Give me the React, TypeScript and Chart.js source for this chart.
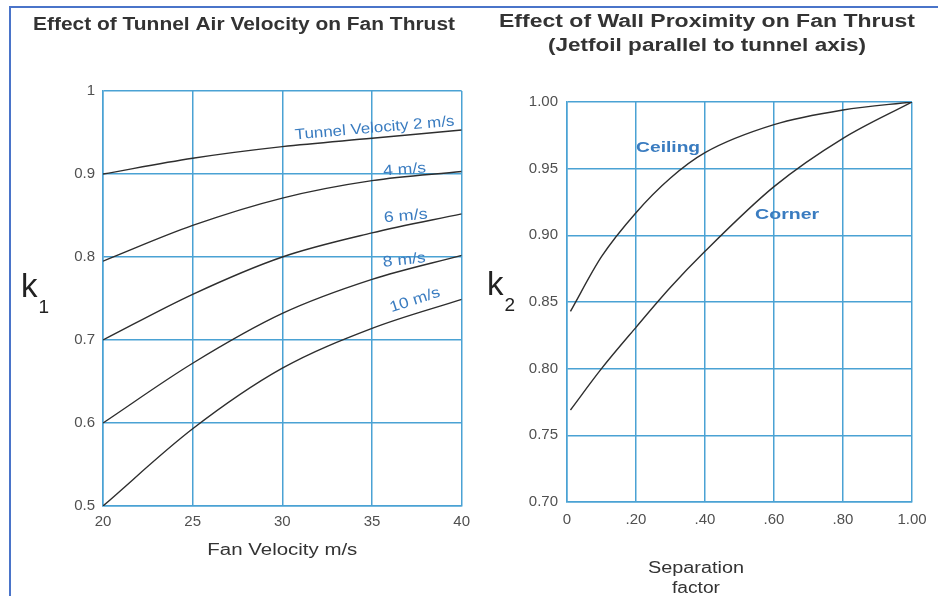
import { useEffect, useRef } from "react";
import { Chart, registerables } from "chart.js";

Chart.register(...registerables);

// ---- Fan thrust correction factor k1 vs fan velocity ----
const fanVelocity = [20, 25, 30, 35, 40];
const k1Tunnel2 = [0.9, 0.919, 0.933, 0.943, 0.953];
const k1Tunnel4 = [0.795, 0.838, 0.871, 0.892, 0.903];
const k1Tunnel6 = [0.7, 0.755, 0.8, 0.829, 0.852];
const k1Tunnel8 = [0.6, 0.672, 0.732, 0.773, 0.802];
const k1Tunnel10 = [0.5, 0.593, 0.666, 0.714, 0.749];
const k1Ticks = [0.5, 0.6, 0.7, 0.8, 0.9, 1];
const k1TickLabels = ["0.5", "0.6", "0.7", "0.8", "0.9", "1"];
const fanTicks = [20, 25, 30, 35, 40];
const fanTickLabels = ["20", "25", "30", "35", "40"];

// ---- Wall proximity correction factor k2 vs separation factor ----
const separation = [0.01, 0.1, 0.2, 0.3, 0.4, 0.6, 0.8, 1.0];
const k2Ceiling = [0.843, 0.884, 0.917, 0.943, 0.962, 0.983, 0.994, 1.0];
const k2Corner = [0.769, 0.8, 0.831, 0.861, 0.888, 0.9365, 0.9727, 1.0];
const k2Ticks = [0.7, 0.75, 0.8, 0.85, 0.9, 0.95, 1.0];
const k2TickLabels = ["0.70", "0.75", "0.80", "0.85", "0.90", "0.95", "1.00"];
const sepTicks = [0, 0.2, 0.4, 0.6, 0.8, 1.0];
const sepTickLabels = ["0", ".20", ".40", ".60", ".80", "1.00"];

const FONT = '"Liberation Sans", Arial, Helvetica, sans-serif';
const GRID = "#4aa2d4";
const TICK = "#505050";
const TEXT = "#333333";
const LABEL_BLUE = "#3a7cc0";
const CURVE = "#2e2e2e";

type Note = { text: string; x: number; y: number; angle: number; width: number; font: string };

function fitText(ctx: CanvasRenderingContext2D, text: string, cx: number, cy: number, width: number, angleDeg: number) {
  const w = ctx.measureText(text).width;
  ctx.save();
  ctx.translate(cx, cy);
  ctx.rotate((angleDeg * Math.PI) / 180);
  ctx.scale(width / w, 1);
  ctx.textAlign = "center";
  ctx.fillText(text, 0, 0);
  ctx.restore();
}

function makeNotesPlugin(draw: (chart: any, ctx: CanvasRenderingContext2D) => void, notes: Note[]) {
  return {
    id: "notes",
    afterDraw(chart: any) {
      const ctx: CanvasRenderingContext2D = chart.ctx;
      const xs = chart.scales.x;
      const ys = chart.scales.y;
      ctx.save();
      ctx.textBaseline = "middle";
      ctx.fillStyle = LABEL_BLUE;
      for (const n of notes) {
        ctx.font = n.font;
        fitText(ctx, n.text, xs.getPixelForValue(n.x), ys.getPixelForValue(n.y), n.width, n.angle);
      }
      ctx.restore();
      ctx.save();
      draw(chart, ctx);
      ctx.restore();
    },
  };
}

function series(xs: number[], ys: number[]) {
  return xs.map((x, i) => ({ x, y: ys[i] }));
}

function lineDataset(xs: number[], ys: number[]) {
  return {
    data: series(xs, ys),
    borderColor: CURVE,
    borderWidth: 1.4,
    pointRadius: 0,
    cubicInterpolationMode: "monotone" as const,
    fill: false,
  };
}

function axis(ticksAt: number[], labels: string[], min: number, max: number, size: number, isX: boolean, pad: number, fontSize: number) {
  return {
    type: "linear" as const,
    min,
    max,
    afterBuildTicks(scale: any) {
      scale.ticks = ticksAt.map((v) => ({ value: v }));
    },
    afterFit(scale: any) {
      if (isX) scale.height = size;
      else scale.width = size;
    },
    grid: { color: GRID, lineWidth: 1.5, drawTicks: false },
    border: { color: GRID, width: 1.5 },
    ticks: {
      padding: pad,
      color: TICK,
      font: { family: FONT, size: fontSize },
      maxRotation: 0,
      autoSkip: false,
      callback: (v: number) => {
        const i = ticksAt.findIndex((t) => Math.abs(t - v) < 1e-9);
        return i >= 0 ? labels[i] : "";
      },
    },
  };
}

function drawK(ctx: CanvasRenderingContext2D, x: number, baseline: number, sub: string) {
  ctx.fillStyle = "#222222";
  ctx.textAlign = "left";
  ctx.textBaseline = "alphabetic";
  ctx.font = `33px ${FONT}`;
  ctx.fillText("k", x, baseline);
  const kw = ctx.measureText("k").width;
  ctx.font = `19px ${FONT}`;
  ctx.fillText(sub, x + kw + 1, baseline + 16);
}

function VelocityChart() {
  const ref = useRef<HTMLCanvasElement | null>(null);
  useEffect(() => {
    if (!ref.current) return;
    const notes: Note[] = [
      { text: "Tunnel Velocity 2 m/s", x: 35.15, y: 0.955, angle: -5, width: 160, font: `15px ${FONT}` },
      { text: "4 m/s", x: 36.82, y: 0.905, angle: -4, width: 43, font: `15px ${FONT}` },
      { text: "6 m/s", x: 36.88, y: 0.849, angle: -5, width: 44, font: `15px ${FONT}` },
      { text: "8 m/s", x: 36.8, y: 0.796, angle: -6, width: 43, font: `15px ${FONT}` },
      { text: "10 m/s", x: 37.4, y: 0.748, angle: -18, width: 52, font: `15px ${FONT}` },
    ];
    const plugin = makeNotesPlugin((chart, ctx) => {
      const a = chart.chartArea;
      ctx.fillStyle = TEXT;
      ctx.textBaseline = "alphabetic";
      ctx.font = `bold 18px ${FONT}`;
      fitText(ctx, "Effect of Tunnel Air Velocity on Fan Thrust", 244, 30, 422, 0);
      ctx.font = `16px ${FONT}`;
      fitText(ctx, "Fan Velocity m/s", (a.left + a.right) / 2, 555, 150, 0);
      drawK(ctx, 21, 297, "1");
    }, notes);
    const chart = new Chart(ref.current, {
      type: "line",
      data: {
        datasets: [
          lineDataset(fanVelocity, k1Tunnel2),
          lineDataset(fanVelocity, k1Tunnel4),
          lineDataset(fanVelocity, k1Tunnel6),
          lineDataset(fanVelocity, k1Tunnel8),
          lineDataset(fanVelocity, k1Tunnel10),
        ],
      },
      options: {
        responsive: false,
        animation: false,
        layout: { padding: { top: 91, right: 0, bottom: 0, left: 0 } },
        plugins: { legend: { display: false }, tooltip: { enabled: false }, title: { display: false } },
        scales: {
          x: axis(fanTicks, fanTickLabels, 20, 40, 90, true, 7, 15),
          y: axis(k1Ticks, k1TickLabels, 0.5, 1, 103, false, 8, 15),
        },
      },
      plugins: [plugin],
    });
    return () => chart.destroy();
  }, []);
  return <canvas ref={ref} width={477} height={596} style={{ position: "absolute", left: 0, top: 0 }} />;
}

function ProximityChart() {
  const ref = useRef<HTMLCanvasElement | null>(null);
  useEffect(() => {
    if (!ref.current) return;
    const notes: Note[] = [
      { text: "Ceiling", x: 0.293, y: 0.9655, angle: 0, width: 64, font: `bold 15px ${FONT}` },
      { text: "Corner", x: 0.638, y: 0.915, angle: 0, width: 64, font: `bold 15px ${FONT}` },
    ];
    const plugin = makeNotesPlugin((chart, ctx) => {
      ctx.fillStyle = TEXT;
      ctx.textBaseline = "alphabetic";
      ctx.font = `bold 18px ${FONT}`;
      fitText(ctx, "Effect of Wall Proximity on Fan Thrust", 237, 27, 416, 0);
      fitText(ctx, "(Jetfoil parallel to tunnel axis)", 237, 51, 318, 0);
      ctx.font = `16px ${FONT}`;
      fitText(ctx, "Separation", 226, 573, 96, 0);
      fitText(ctx, "factor", 226, 593, 48, 0);
      drawK(ctx, 17, 295, "2");
    }, notes);
    const chart = new Chart(ref.current, {
      type: "line",
      data: {
        datasets: [lineDataset(separation, k2Ceiling), lineDataset(separation, k2Corner)],
      },
      options: {
        responsive: false,
        animation: false,
        layout: { padding: { top: 102, right: 26, bottom: 0, left: 0 } },
        plugins: { legend: { display: false }, tooltip: { enabled: false }, title: { display: false } },
        scales: {
          x: axis(sepTicks, sepTickLabels, 0, 1, 94, true, 9, 15),
          y: axis(k2Ticks, k2TickLabels, 0.7, 1, 97, false, 9, 15),
        },
      },
      plugins: [plugin],
    });
    return () => chart.destroy();
  }, []);
  return <canvas ref={ref} width={468} height={596} style={{ position: "absolute", left: 470, top: 0 }} />;
}

export default function App() {
  return (
    <div style={{ position: "fixed", left: 0, top: 0, width: 938, height: 596, background: "#ffffff", overflow: "hidden" }}>
      <VelocityChart />
      <ProximityChart />
      <div
        style={{
          position: "absolute",
          left: 9,
          top: 6,
          width: 940,
          height: 600,
          borderTop: "2px solid #4a74c9",
          borderLeft: "2px solid #4a74c9",
          pointerEvents: "none",
        }}
      />
    </div>
  );
}
